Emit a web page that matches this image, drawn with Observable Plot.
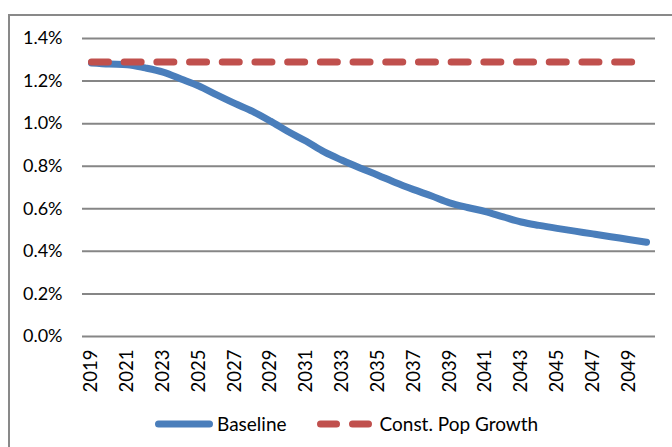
<!DOCTYPE html>
<html>
<head>
<meta charset="utf-8">
<script src="https://cdn.jsdelivr.net/npm/d3@7"></script>
<script src="https://cdn.jsdelivr.net/npm/@observablehq/plot@0.6"></script>
<style>
  html, body { margin: 0; padding: 0; background: #fff; }
  body { width: 672px; height: 447px; position: relative; overflow: hidden; font-family: Lato, "Open Sans", sans-serif; }
  #frame { position: absolute; left: 8px; top: 14px; width: 700px; height: 500px; border-left: 2px solid #898989; border-top: 2px solid #898989; pointer-events: none; }
  #chart { position: absolute; left: 0; top: 0; }
  #legend { position: absolute; left: 155px; top: 400px; height: 47px; display: flex; align-items: center; font-size: 19px; color: #000; }
  #legend .item { display: flex; align-items: center; }
  #legend svg { display: block; }
</style>
</head>
<body>
<div id="frame"></div>
<div id="chart"></div>
<div id="legend"></div>
<script>
const years = [2019,2020,2021,2022,2023,2024,2025,2026,2027,2028,2029,2030,2031,2032,2033,2034,2035,2036,2037,2038,2039,2040,2041,2042,2043,2044,2045,2046,2047,2048,2049,2050];
const baseline = [1.285,1.280,1.277,1.262,1.242,1.210,1.177,1.135,1.095,1.058,1.012,0.962,0.917,0.867,0.828,0.792,0.758,0.722,0.690,0.660,0.628,0.606,0.587,0.562,0.538,0.522,0.508,0.495,0.482,0.469,0.456,0.443];
const constPopGrowth = [1.29,1.29,1.29,1.29,1.29,1.29,1.29,1.29,1.29,1.29,1.29,1.29,1.29,1.29,1.29,1.29,1.29,1.29,1.29,1.29,1.29,1.29,1.29,1.29,1.29,1.29,1.29,1.29,1.29,1.29,1.29,1.29];
const xTicks = [2019,2021,2023,2025,2027,2029,2031,2033,2035,2037,2039,2041,2043,2045,2047,2049];
const yTicks = [0,0.2,0.4,0.6,0.8,1.0,1.2,1.4];
const seriesNames = ["Baseline", "Const. Pop Growth"];
const seriesColors = ["#4a7ebb", "#c0504d"];

const baseData = years.map((y, i) => ({year: y, value: baseline[i]}));
const constData = years.map((y, i) => ({year: y, value: constPopGrowth[i]}));

const chart = Plot.plot({
  width: 672,
  height: 400,
  marginLeft: 82,
  marginRight: 17,
  marginTop: 38,
  marginBottom: 64,
  style: {fontFamily: "Lato, 'Open Sans', sans-serif", fontSize: "18px", color: "#000", background: "transparent"},
  x: {type: "linear", domain: [2018.5, 2050.5]},
  y: {domain: [0, 1.4]},
  marks: [
    Plot.gridY(yTicks, {stroke: "#868686", strokeOpacity: 1, strokeWidth: 2}),
    Plot.axisY(yTicks, {tickSize: 0, tickPadding: 20, tickFormat: d => d.toFixed(1) + "%", label: null, fontSize: 18}),
    Plot.axisX(xTicks, {tickSize: 0, tickPadding: 13, tickRotate: -90, tickFormat: d => String(d), label: null, fontSize: 18.5}),
    Plot.line(baseData, {x: "year", y: "value", stroke: seriesColors[0], strokeWidth: 7, strokeLinecap: "round", strokeLinejoin: "round", curve: "monotone-x"}),
    Plot.line(constData, {x: "year", y: "value", stroke: seriesColors[1], strokeWidth: 7, strokeLinecap: "round", strokeDasharray: "17,15.7"})
  ]
});
document.getElementById("chart").appendChild(chart);

const legend = document.getElementById("legend");
legend.innerHTML = `
  <div class="item">
    <svg width="58" height="10"><line x1="3.5" y1="5" x2="54.5" y2="5" stroke="${seriesColors[0]}" stroke-width="7" stroke-linecap="round"/></svg>
    <span style="margin-left:4px">${seriesNames[0]}</span>
  </div>
  <div class="item" style="margin-left:30px">
    <svg width="56" height="10"><line x1="3.5" y1="5" x2="52.5" y2="5" stroke="${seriesColors[1]}" stroke-width="7" stroke-linecap="round" stroke-dasharray="16,16"/></svg>
    <span style="margin-left:7px">${seriesNames[1]}</span>
  </div>`;
</script>
</body>
</html>
